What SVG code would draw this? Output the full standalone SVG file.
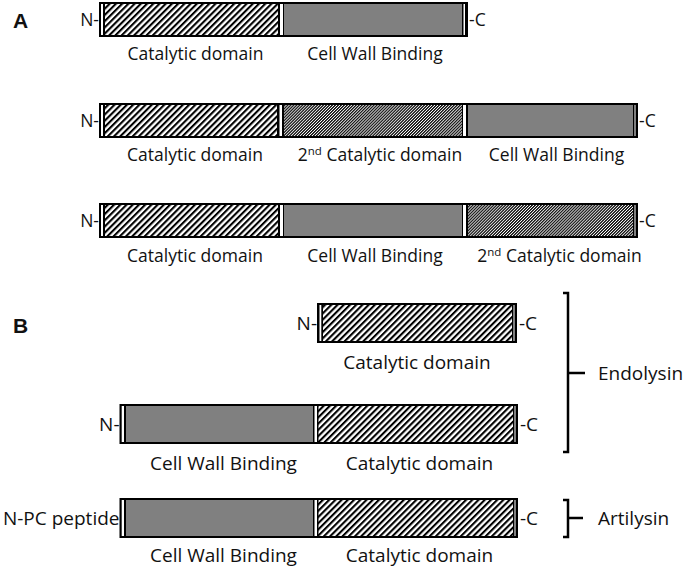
<svg xmlns="http://www.w3.org/2000/svg" width="685" height="569" viewBox="0 0 685 569">
<style>
  .k{fill:#000}
  .w{fill:#fff}
  .g{fill:#808080}
  .h{fill:url(#hatch)}
  .d{fill:url(#dense)}
  text{font-family:"Open Sans","Liberation Sans",sans-serif;fill:#111}
  .la{font-size:17.5px;text-anchor:middle}
  .lb{font-size:19px;text-anchor:middle}
  .ta{font-size:17.5px}
  .tb{font-size:19px}
  .e{text-anchor:end}
  .sec{font-family:"Liberation Sans",Arial,sans-serif;font-weight:bold;font-size:21px}
  .br{fill:none;stroke:#000;stroke-width:2.5}
</style>
<defs>
  <pattern id="hatch" patternUnits="userSpaceOnUse" width="4.4" height="4.4" patternTransform="rotate(45)">
    <rect width="4.4" height="4.4" fill="#fff"/>
    <rect width="2.1" height="4.4" fill="#000"/>
  </pattern>
  <pattern id="dense" patternUnits="userSpaceOnUse" width="2.1" height="2.1" patternTransform="rotate(45)">
    <rect width="2.1" height="2.1" fill="#fff"/>
    <rect width="1.3" height="2.1" fill="#111"/>
  </pattern>
</defs>

<text class="sec" x="13" y="28">A</text>
<text class="sec" x="13" y="333">B</text>

<g id="barA1">
  <rect class="k" x="99" y="2" width="369" height="35"/>
  <rect class="w" x="101" y="4" width="2" height="31"/>
  <rect class="h" x="105" y="4" width="173" height="31"/>
  <rect class="w" x="280" y="4" width="3" height="31"/>
  <rect class="g" x="284" y="4" width="178" height="31"/>
  <rect class="w" x="463.5" y="4" width="1.5" height="31"/>
  <text class="ta e" x="99" y="25.5">N-</text>
  <text class="ta" x="469" y="25.5">-C</text>
  <text class="la" x="195.5" y="60">Catalytic domain</text>
  <text class="la" x="375" y="60">Cell Wall Binding</text>
</g>

<g id="barA2">
  <rect class="k" x="99" y="103" width="539" height="35"/>
  <rect class="w" x="101" y="105" width="2" height="31"/>
  <rect class="h" x="105" y="105" width="172" height="31"/>
  <rect class="w" x="279.5" y="105" width="2.5" height="31"/>
  <rect class="d" x="284" y="105" width="178" height="31"/>
  <rect class="w" x="463" y="105" width="3" height="31"/>
  <rect class="g" x="468" y="105" width="165" height="31"/>
  <rect class="w" x="634.5" y="105" width="1" height="31"/>
  <text class="ta e" x="99" y="126.5">N-</text>
  <text class="ta" x="639" y="126.5">-C</text>
  <text class="la" x="195" y="161">Catalytic domain</text>
  <text class="la" x="380" y="161">2<tspan font-size="11.5" dy="-6.5">nd</tspan><tspan dy="6.5"> Catalytic domain</tspan></text>
  <text class="la" x="556.5" y="161">Cell Wall Binding</text>
</g>

<g id="barA3">
  <rect class="k" x="99" y="203" width="539" height="35"/>
  <rect class="w" x="101" y="205" width="2" height="31"/>
  <rect class="h" x="105" y="205" width="173" height="31"/>
  <rect class="w" x="280" y="205" width="3" height="31"/>
  <rect class="g" x="284" y="205" width="178" height="31"/>
  <rect class="w" x="463" y="205" width="3" height="31"/>
  <rect class="d" x="468" y="205" width="165" height="31"/>
  <rect class="w" x="634.5" y="205" width="1" height="31"/>
  <text class="ta e" x="99" y="226.5">N-</text>
  <text class="ta" x="639" y="226.5">-C</text>
  <text class="la" x="195" y="262">Catalytic domain</text>
  <text class="la" x="375" y="262">Cell Wall Binding</text>
  <text class="la" x="559.5" y="262">2<tspan font-size="11.5" dy="-6.5">nd</tspan><tspan dy="6.5"> Catalytic domain</tspan></text>
</g>

<g id="barB1">
  <rect class="k" x="317" y="303" width="200" height="40"/>
  <rect class="w" x="319.5" y="305" width="1.8" height="36"/>
  <rect class="h" x="323" y="305" width="189" height="36"/>
  <rect class="w" x="513.5" y="305" width="1" height="36"/>
  <text class="tb e" x="317" y="330">N-</text>
  <text class="tb" x="519" y="330">-C</text>
  <text class="lb" x="417" y="369">Catalytic domain</text>
</g>

<g id="barB2">
  <rect class="k" x="119.5" y="404" width="398.5" height="40"/>
  <rect class="w" x="121.7" y="406" width="2.3" height="36"/>
  <rect class="g" x="126" y="406" width="187" height="36"/>
  <rect class="w" x="314.5" y="406" width="2.5" height="36"/>
  <rect class="h" x="318.5" y="406" width="194.5" height="36"/>
  <rect class="w" x="514.5" y="406" width="1" height="36"/>
  <text class="tb e" x="119.5" y="431">N-</text>
  <text class="tb" x="520" y="431">-C</text>
  <text class="lb" x="223.5" y="470">Cell Wall Binding</text>
  <text class="lb" x="419.5" y="470">Catalytic domain</text>
</g>

<g id="barB3">
  <rect class="k" x="119.5" y="498" width="398.5" height="40"/>
  <rect class="w" x="121.7" y="500" width="2.3" height="36"/>
  <rect class="g" x="126" y="500" width="187" height="36"/>
  <rect class="w" x="314.5" y="500" width="2.5" height="36"/>
  <rect class="h" x="318.5" y="500" width="194.5" height="36"/>
  <rect class="w" x="514.5" y="500" width="1" height="36"/>
  <text class="tb e" x="119.5" y="525">N-PC peptide</text>
  <text class="tb" x="520" y="525">-C</text>
  <text class="lb" x="223.5" y="562">Cell Wall Binding</text>
  <text class="lb" x="419.5" y="562">Catalytic domain</text>
</g>

<g id="connectors">
  <path class="br" d="M563 293 H568 V452 H563 M568 373 H585"/>
  <path class="br" d="M563 500 H568 V537 H563 M568 518 H583"/>
</g>

<g id="endolysin"><text class="tb" x="598" y="380">Endolysin</text></g>
<g id="artilysin"><text class="tb" x="598" y="525">Artilysin</text></g>
</svg>
